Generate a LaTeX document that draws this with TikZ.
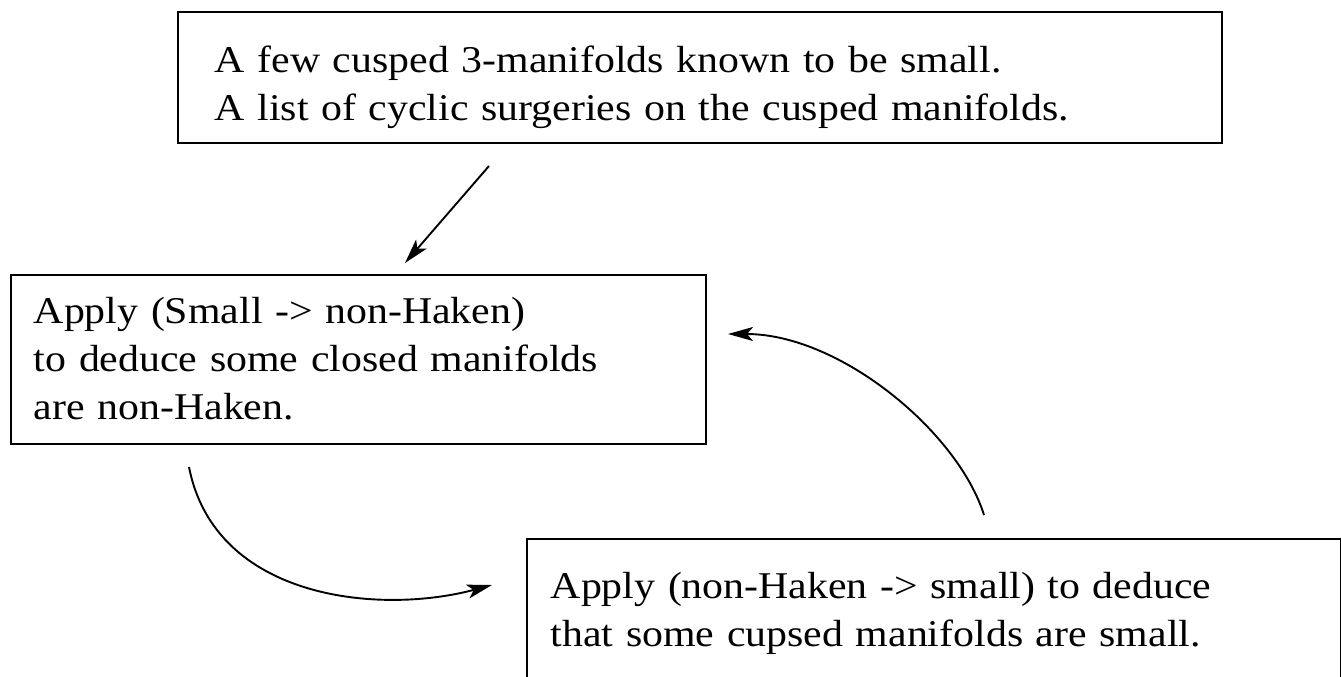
\documentclass[tikz,border=0pt]{standalone}
\usepackage{fontspec}
\setmainfont[FakeStretch=1.107]{Liberation Serif}
\usetikzlibrary{arrows.meta}
\tikzset{
  box/.style={draw, line width=1.7pt, rectangle, anchor=north west, align=left, inner ysep=0pt,
    font=\fontsize{37.8pt}{48pt}\selectfont},
  conn/.style={line width=1.9pt, -{Stealth[length=25pt, width=14pt, inset=6pt]}}
}
\begin{document}
\begin{tikzpicture}[x=1pt,y=-1pt]
\useasboundingbox (0,0) rectangle (1341,677);
\node[box, inner xsep=37pt, text width=970pt, text height=61pt, text depth=70pt] (top) at (177,11)
  {A few cusped 3-manifolds known to be small.\\A list of cyclic surgeries on the cusped manifolds.};
\node[box, inner xsep=23pt, text width=649pt, text height=49pt, text depth=120pt] (left) at (10,274)
  {Apply (Small -> non-Haken)\\to deduce some closed manifolds\\are non-Haken.};
\node[box, inner xsep=24pt, text width=766pt, text height=60pt, text depth=150pt] (right) at (526,538)
  {Apply (non-Haken -> small) to deduce\\that some cupsed manifolds are small.};
\coordinate (a1s) at (489,166);
\coordinate (a1e) at (405,263);
\coordinate (a2s) at (189,467);
\coordinate (a2e) at (492,585);
\coordinate (a3s) at (984,515);
\coordinate (a3e) at (728,334);
\draw[conn] (a1s) -- (a1e);
\draw[conn] (a2s) .. controls (215,600) and (380,615) .. (a2e);
\draw[conn] (a3s) .. controls (958,432) and (840,334) .. (a3e);
\end{tikzpicture}
\end{document}
